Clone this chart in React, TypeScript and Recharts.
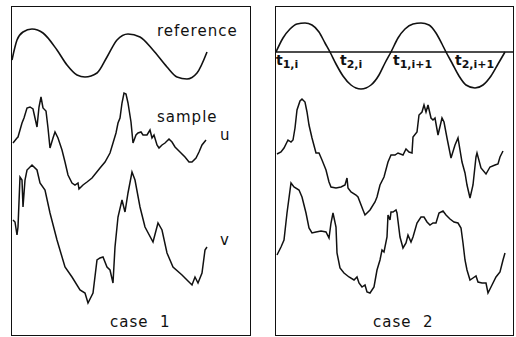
import React from "react"
import { LineChart, Line, XAxis, YAxis, ReferenceLine } from "recharts"

// [t, amplitude] pairs; t runs across the panel, amplitude is measured from the panel floor
const refCase1: [number, number][] = [
  [0, 275], [5, 295], [11, 303], [20, 306], [31, 302], [45, 285], [55, 270], [65, 260], [73, 258],
  [85, 262], [95, 278], [105, 295], [116, 301], [128, 298], [141, 285], [155, 268], [165, 258],
  [175, 256], [185, 262], [195, 283],
]

const uCase1: [number, number][] = [
  [1, 192], [5, 197], [6, 198], [10, 212], [12, 217], [15, 227], [18, 228], [21, 226], [25, 208],
  [27, 228], [29, 238], [31, 227], [34, 224], [36, 207], [38, 187], [41, 197], [43, 203], [46, 197],
  [50, 185], [53, 173], [56, 160], [60, 152], [63, 150], [66, 152], [67, 146], [71, 150], [75, 153],
  [80, 157], [84, 162], [88, 167], [93, 173], [98, 182], [101, 192], [104, 202], [106, 212],
  [108, 217], [110, 232], [112, 242], [114, 241], [116, 232], [119, 213], [121, 192], [124, 200],
  [126, 202], [129, 203], [131, 200], [135, 200], [138, 205], [140, 197], [142, 200], [145, 190],
  [147, 187], [150, 190], [153, 192], [157, 196], [160, 193], [163, 188], [168, 183], [173, 178],
  [177, 173], [180, 173], [184, 177], [187, 183], [190, 190], [194, 195],
]

const vCase1: [number, number][] = [
  [1, 115], [3, 113], [5, 100], [6, 108], [8, 158], [10, 155], [11, 128], [13, 155], [15, 165],
  [20, 170], [25, 165], [28, 152], [33, 145], [38, 122], [45, 95], [53, 68], [60, 58], [68, 45],
  [73, 42], [76, 32], [81, 42], [85, 75], [88, 77], [91, 78], [95, 68], [98, 65], [101, 52],
  [103, 88], [106, 118], [110, 135], [113, 123], [116, 142], [120, 163], [123, 155], [128, 128],
  [133, 108], [141, 93], [146, 112], [150, 105], [155, 82], [161, 68], [170, 60], [175, 55],
  [180, 50], [183, 58], [186, 52], [190, 62], [193, 85], [195, 88],
]

const refCase2: [number, number][] = [
  [0, 283], [7, 297], [14, 306], [21, 311], [29, 312], [36, 310], [43, 303], [49, 292], [54, 283],
  [60, 271], [67, 259], [75, 250], [85, 246], [95, 250], [103, 260], [109, 272], [115, 283],
  [122, 297], [129, 306], [137, 311], [145, 312], [153, 310], [160, 302], [166, 291], [170, 283],
  [176, 272], [183, 259], [190, 250], [199, 247], [207, 250], [215, 259], [222, 271], [229, 283],
]
const zeroCase2 = 283

const uCase2: [number, number][] = [
  [1, 181], [5, 183], [8, 187], [12, 195], [15, 193], [17, 195], [19, 207], [21, 225], [24, 234],
  [26, 236], [29, 233], [31, 223], [33, 210], [36, 197], [40, 182], [43, 182], [46, 175], [50, 165],
  [53, 153], [55, 148], [60, 147], [65, 148], [69, 150], [71, 157], [72, 147], [75, 143], [80, 140],
  [82, 138], [87, 125], [89, 120], [94, 125], [99, 133], [101, 138], [104, 150], [108, 158],
  [112, 173], [115, 180], [119, 180], [122, 182], [127, 180], [130, 186], [133, 183], [136, 182],
  [137, 198], [141, 203], [143, 220], [146, 223], [148, 230], [150, 223], [152, 230], [155, 217],
  [157, 215], [159, 217], [162, 200], [166, 217], [168, 213], [171, 197], [175, 177], [179, 190],
  [182, 197], [186, 173], [189, 162], [191, 150], [194, 137], [197, 150], [200, 178], [201, 182],
  [205, 167], [210, 161], [214, 168], [219, 170], [222, 171], [224, 178], [227, 184],
]

const vCase2: [number, number][] = [
  [1, 80], [5, 88], [8, 95], [11, 122], [15, 152], [18, 148], [23, 145], [26, 138], [30, 122],
  [33, 107], [36, 102], [40, 103], [45, 104], [50, 103], [53, 97], [55, 112], [57, 122], [60, 108],
  [61, 82], [64, 67], [68, 62], [73, 58], [78, 55], [81, 58], [83, 52], [86, 48], [89, 50], [91, 43],
  [94, 42], [98, 48], [101, 65], [104, 75], [106, 85], [108, 83], [111, 98], [112, 120], [114, 115],
  [115, 123], [117, 123], [120, 125], [121, 122], [124, 98], [127, 87], [130, 92], [132, 100],
  [135, 93], [137, 98], [141, 112], [145, 118], [148, 118], [151, 113], [154, 110], [157, 112],
  [160, 112], [163, 122], [167, 124], [170, 120], [174, 116], [178, 113], [182, 112], [185, 107],
  [187, 92], [189, 75], [191, 65], [194, 55], [197, 57], [200, 59], [202, 53], [206, 52], [210, 52],
  [212, 42], [216, 50], [220, 58], [224, 63], [227, 75], [229, 82],
]

const toPoints = (pairs: [number, number][]) => pairs.map(([t, y]) => ({ t, y }))

const INK = "#111"
const PANEL_H = 328

interface PanelProps {
  left: number
  width: number
  reference: [number, number][]
  u: [number, number][]
  v: [number, number][]
  zero?: number
}

function Panel({ left, width, reference, u, v, zero }: PanelProps) {
  return (
    <>
      <div
        style={{
          position: "absolute",
          left: left - 1,
          top: 6,
          width: width + 2,
          height: PANEL_H + 2,
          border: `1.5px solid ${INK}`,
          boxSizing: "border-box",
        }}
      />
      <div style={{ position: "absolute", left, top: 7 }}>
        <LineChart width={width} height={PANEL_H} margin={{ top: 0, right: 0, bottom: 0, left: 0 }}>
          <XAxis dataKey="t" type="number" domain={[0, width]} hide allowDataOverflow />
          <YAxis type="number" domain={[0, PANEL_H]} hide allowDataOverflow />
          {zero !== undefined && <ReferenceLine y={zero} stroke={INK} strokeWidth={1.6} />}
          <Line data={toPoints(reference)} dataKey="y" type="monotone" stroke={INK} strokeWidth={1.6} dot={false} isAnimationActive={false} />
          <Line data={toPoints(u)} dataKey="y" type="linear" stroke={INK} strokeWidth={1.5} dot={false} isAnimationActive={false} />
          <Line data={toPoints(v)} dataKey="y" type="linear" stroke={INK} strokeWidth={1.5} dot={false} isAnimationActive={false} />
        </LineChart>
      </div>
    </>
  )
}

const labelFont = { fontFamily: "DejaVu Sans", fontSize: 15, letterSpacing: 1, fill: INK }
const tFont = { fontFamily: "DejaVu Sans", fontWeight: 700, fill: INK }

function TLabel({ x, sub }: { x: number; sub: string }) {
  return (
    <text x={x} y={65} style={tFont}>
      <tspan fontSize={14}>t</tspan>
      <tspan fontSize={11} dy={3}>{sub}</tspan>
    </text>
  )
}

export default function App() {
  return (
    <div style={{ position: "absolute", left: 0, top: 0, width: 516, height: 337, background: "#fff", overflow: "hidden" }}>
      <Panel left={12} width={238} reference={refCase1} u={uCase1} v={vCase1} />
      <Panel left={276} width={237} reference={refCase2} u={uCase2} v={vCase2} zero={zeroCase2} />
      <svg width={516} height={337} style={{ position: "absolute", left: 0, top: 0, pointerEvents: "none" }}>
        <text x={157} y={36} style={labelFont}>reference</text>
        <text x={157} y={122} style={labelFont}>sample</text>
        <text x={220} y={140} style={labelFont}>u</text>
        <text x={220} y={245} style={labelFont}>v</text>
        <text x={110} y={327} style={{ ...labelFont, whiteSpace: "pre" }}>{"case  1"}</text>
        <text x={373} y={327} style={{ ...labelFont, whiteSpace: "pre" }}>{"case  2"}</text>
        <TLabel x={276} sub="1,i" />
        <TLabel x={340} sub="2,i" />
        <TLabel x={393} sub="1,i+1" />
        <TLabel x={455} sub="2,i+1" />
      </svg>
    </div>
  )
}
